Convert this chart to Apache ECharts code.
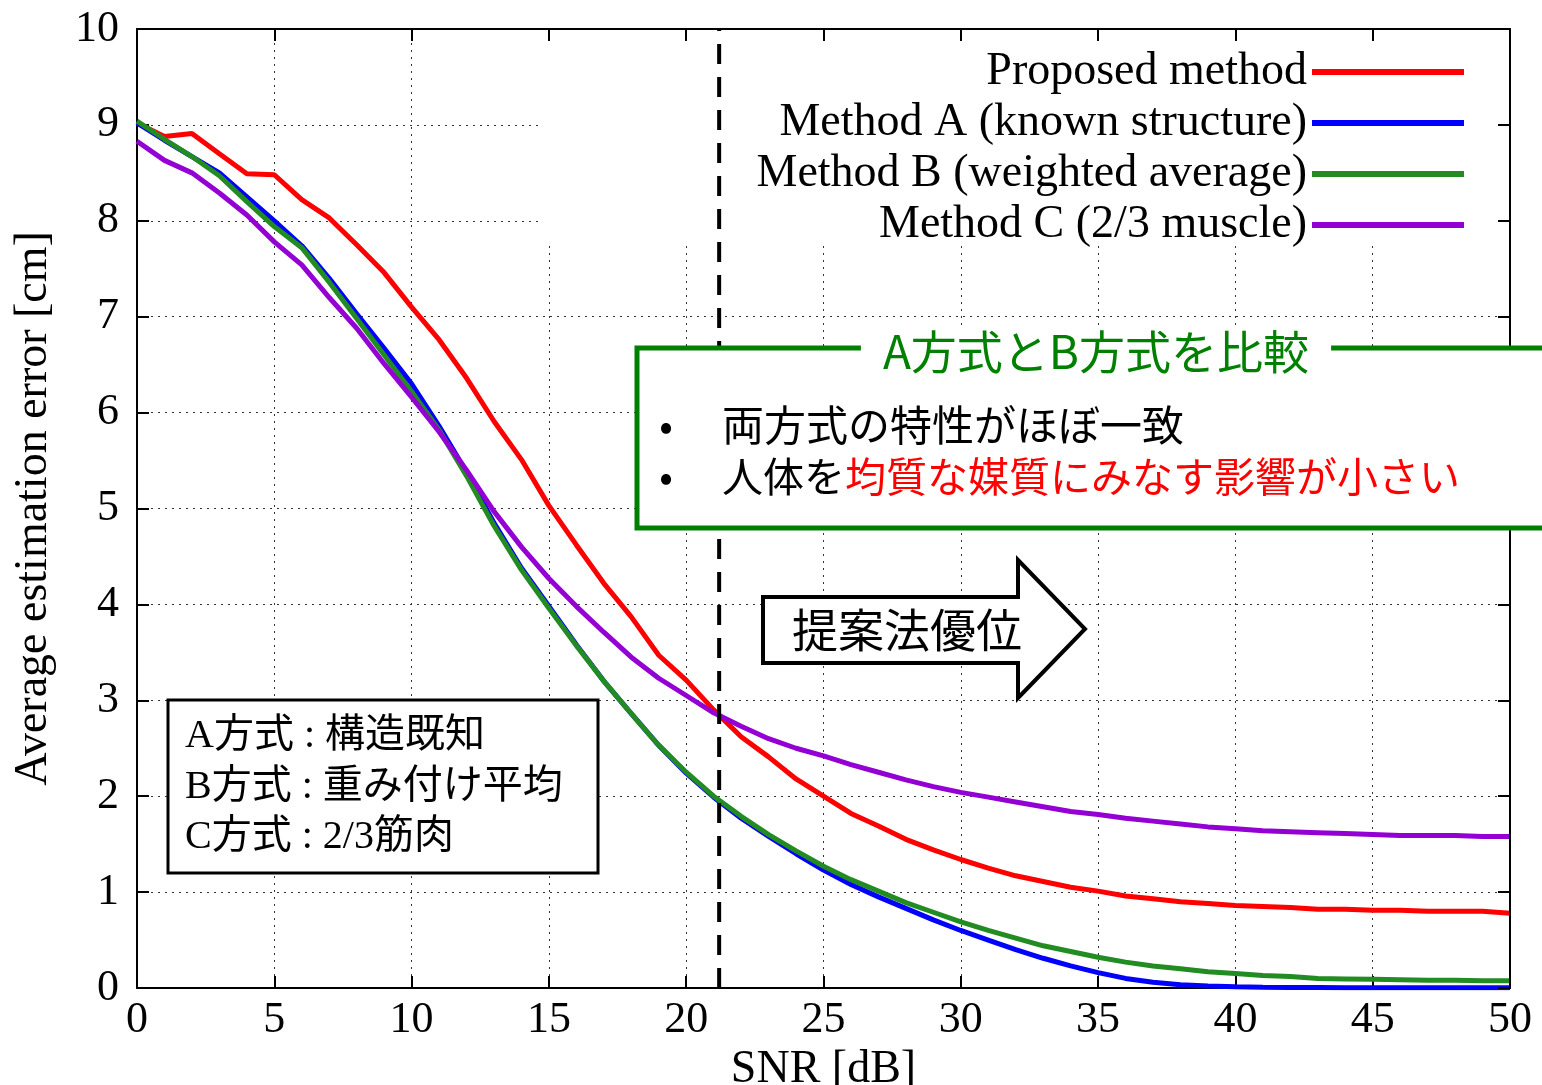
<!DOCTYPE html>
<html><head><meta charset="utf-8">
<script src="https://cdn.jsdelivr.net/npm/echarts@6/dist/echarts.min.js"></script>
<style>html,body{margin:0;padding:0;background:#fff}#c{width:1542px;height:1085px}</style>
</head><body><div id="c"></div><script>
// ---- data ----
const snr = [0,1,2,3,4,5,6,7,8,9,10,11,12,13,14,15,16,17,18,19,20,21,22,23,24,25,26,27,28,29,30,31,32,33,34,35,36,37,38,39,40,41,42,43,44,45,46,47,48,49,50];
const proposed = [9.02,8.88,8.91,8.70,8.49,8.48,8.22,8.03,7.75,7.46,7.10,6.76,6.36,5.91,5.51,5.03,4.62,4.22,3.87,3.47,3.21,2.90,2.62,2.41,2.18,2.00,1.82,1.69,1.55,1.44,1.34,1.25,1.17,1.11,1.05,1.01,0.96,0.93,0.90,0.88,0.86,0.85,0.84,0.82,0.82,0.81,0.81,0.80,0.80,0.80,0.78];
const methodA = [9.02,8.84,8.67,8.50,8.25,8.00,7.74,7.40,7.03,6.67,6.30,5.86,5.38,4.85,4.38,3.98,3.58,3.20,2.86,2.53,2.24,1.99,1.77,1.58,1.40,1.23,1.08,0.95,0.83,0.71,0.60,0.50,0.40,0.31,0.23,0.16,0.10,0.06,0.035,0.02,0.012,0.008,0.005,0.004,0.003,0.003,0.002,0.002,0.002,0.002,0.002];
const methodB = [9.04,8.85,8.67,8.47,8.20,7.94,7.72,7.36,6.98,6.60,6.22,5.82,5.34,4.82,4.36,3.96,3.57,3.20,2.86,2.53,2.25,2.00,1.79,1.60,1.43,1.27,1.13,1.01,0.89,0.79,0.69,0.60,0.52,0.44,0.38,0.32,0.27,0.23,0.20,0.17,0.15,0.13,0.12,0.10,0.095,0.09,0.085,0.08,0.08,0.075,0.075];
const methodC = [8.83,8.63,8.50,8.29,8.06,7.78,7.54,7.20,6.88,6.51,6.16,5.80,5.40,4.97,4.60,4.27,3.98,3.71,3.45,3.23,3.05,2.87,2.73,2.60,2.50,2.42,2.33,2.25,2.17,2.10,2.04,1.99,1.94,1.89,1.84,1.81,1.77,1.74,1.71,1.68,1.66,1.64,1.63,1.62,1.61,1.60,1.59,1.59,1.59,1.58,1.58];
const seriesNames = ['Proposed method','Method A (known structure)','Method B (weighted average)','Method C (2/3 muscle)'];
const crossoverSNR = 21.2;
const xMin = 0, xMax = 50, xStep = 5;
const yMin = 0, yMax = 10, yStep = 1;

// ---- chart ----
const serif = '"Liberation Serif", "Times New Roman", serif';
const jp = '"Noto Sans CJK JP", "Noto Sans", sans-serif';
const mixed = '"Liberation Serif", "Noto Sans CJK JP", serif';
const colors = ['#ff0000','#0000ff','#228b22','#9400d3'];
function pairs(v){ return snr.map((x,i)=>[x,v[i]]); }
const axisLine = {onZero:false, lineStyle:{color:'#000',width:2}};
const tick = {inside:true,length:12,lineStyle:{color:'#000',width:2}};
const chart = echarts.init(document.getElementById('c'));
const curves = [proposed, methodA, methodB, methodC].map((v,i)=>({
  type:'line', name:seriesNames[i], data:pairs(v), symbol:'none', smooth:false,
  lineStyle:{color:colors[i],width:5}, itemStyle:{color:colors[i]}, z:2, silent:true
}));
curves.push({
  type:'line', name:'crossover', data:[[crossoverSNR,yMin],[crossoverSNR,yMax]], symbol:'none',
  lineStyle:{color:'#000',width:4,type:[20,13]}, z:2, silent:true
});
chart.setOption({
  animation:false,
  grid:{left:137,right:32,top:29,bottom:97,outerBoundsMode:'none',containLabel:false},
  xAxis:[
    {type:'value',min:xMin,max:xMax,interval:xStep,axisLine:axisLine,axisTick:tick,
     axisLabel:{fontFamily:serif,fontSize:44,color:'#000',margin:10},
     splitLine:{lineStyle:{color:'#333',width:1,type:[2,5]}},
     name:'SNR [dB]',nameLocation:'middle',nameGap:50,
     nameTextStyle:{fontFamily:serif,fontSize:46,color:'#000'}},
    {type:'value',position:'top',min:xMin,max:xMax,interval:xStep,z:3,axisLine:axisLine,axisTick:tick,
     axisLabel:{show:false},splitLine:{show:false}}
  ],
  yAxis:[
    {type:'value',min:yMin,max:yMax,interval:yStep,axisLine:axisLine,axisTick:tick,
     axisLabel:{fontFamily:serif,fontSize:44,color:'#000',margin:18},
     splitLine:{lineStyle:{color:'#333',width:1,type:[2,5]}},
     name:'Average estimation error [cm]',nameLocation:'middle',nameGap:80,
     nameTextStyle:{fontFamily:serif,fontSize:46,color:'#000'}},
    {type:'value',position:'right',min:yMin,max:yMax,interval:yStep,z:3,axisLine:axisLine,axisTick:tick,
     axisLabel:{show:false},splitLine:{show:false}}
  ],
  legend:{data:seriesNames,orient:'vertical',right:73,top:44,align:'right',icon:'rect',
    itemWidth:152,itemHeight:6,itemGap:5,selectedMode:false,z:4,
    textStyle:{fontFamily:serif,fontSize:46,lineHeight:46,color:'#000'}},
  series:curves,
  graphic:[
    {type:'rect',silent:true,z:1,shape:{x:540,y:31,width:968,height:214},style:{fill:'#fff'}},
    {type:'rect',silent:true,z:10,shape:{x:637,y:348,width:940,height:180},style:{fill:'#fff',stroke:'#008000',lineWidth:5}},
    {type:'text',silent:true,z:11,x:1096,y:352,style:{text:'A方式とB方式を比較',fontFamily:jp,fontSize:46,fill:'#008000',align:'center',verticalAlign:'middle',backgroundColor:'#fff',padding:[0,22]}},
    {type:'text',silent:true,z:11,x:666,y:425,style:{text:'•',fontFamily:jp,fontSize:40,fill:'#000',align:'center',verticalAlign:'middle'}},
    {type:'text',silent:true,z:11,x:666,y:476,style:{text:'•',fontFamily:jp,fontSize:40,fill:'#000',align:'center',verticalAlign:'middle'}},
    {type:'text',silent:true,z:11,x:722,y:425,style:{text:'両方式の特性がほぼ一致',fontFamily:jp,fontSize:42,fill:'#000',align:'left',verticalAlign:'middle'}},
    {type:'text',silent:true,z:11,x:722,y:476,style:{text:'{k|人体を}{r|均質な媒質にみなす影響が小さい}',fontFamily:jp,fontSize:41,align:'left',verticalAlign:'middle',
      rich:{k:{fill:'#000',fontFamily:jp,fontSize:41},r:{fill:'#ff0000',fontFamily:jp,fontSize:41}}}},
    {type:'polygon',silent:true,z:10,shape:{points:[[763,597],[1018,597],[1018,560],[1085,629],[1018,698],[1018,663],[763,663]]},style:{fill:'#fff',stroke:'#000',lineWidth:4,lineJoin:'miter'}},
    {type:'text',silent:true,z:11,x:907,y:630,style:{text:'提案法優位',fontFamily:jp,fontSize:46,fill:'#000',align:'center',verticalAlign:'middle'}},
    {type:'rect',silent:true,z:10,shape:{x:168,y:700,width:430,height:173},style:{fill:'#fff',stroke:'#000',lineWidth:3}},
    {type:'text',silent:true,z:11,x:185,y:736,style:{text:'A方式 : 構造既知',fontFamily:mixed,fontSize:40,fill:'#000',align:'left',verticalAlign:'middle'}},
    {type:'text',silent:true,z:11,x:185,y:787,style:{text:'B方式 : 重み付け平均',fontFamily:mixed,fontSize:40,fill:'#000',align:'left',verticalAlign:'middle'}},
    {type:'text',silent:true,z:11,x:185,y:837,style:{text:'C方式 : 2/3筋肉',fontFamily:mixed,fontSize:40,fill:'#000',align:'left',verticalAlign:'middle'}}
  ]
});
</script></body></html>
